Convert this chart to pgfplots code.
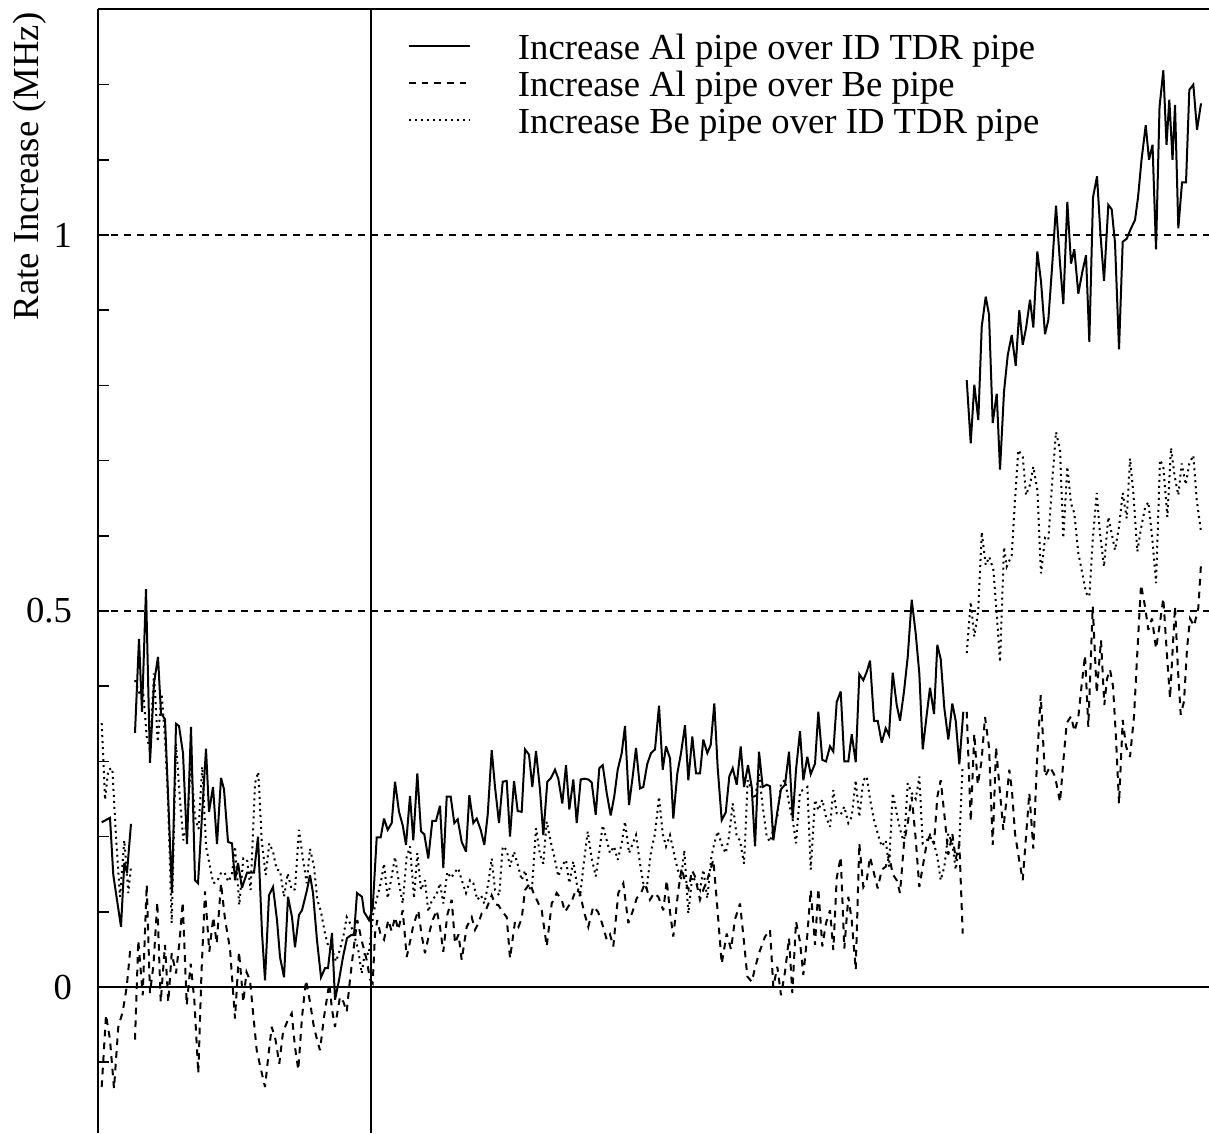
\documentclass[border=0pt]{standalone}
\usepackage{fontspec}
\setmainfont{Liberation Serif}
\usepackage{pgfplots}
\pgfplotsset{compat=1.18}
\begin{document}
\begin{tikzpicture}[font=\fontsize{11}{13}\selectfont]
\begin{axis}[
  x=0.3pt, y=225.6pt,
  xmin=98, xmax=1209, ymin=-0.19415, ymax=1.3,
  axis x line*=top, axis y line*=left,
  axis line style={-, line width=0.6pt},
  xtick=\empty,
  ytick={0,0.5,1}, yticklabels={0,0.5,1},
  minor ytick={-0.1,0.1,0.2,0.3,0.4,0.6,0.7,0.8,0.9,1.1,1.2},
  tick align=inside, major tick length=3.4pt, minor tick length=3.4pt,
  every tick/.style={black, line width=0.45pt},
  yticklabel style={anchor=east, inner sep=0pt, xshift=-7.6pt, font=\fontsize{11}{13}\selectfont},
  /pgf/number format/assume math mode=true,
  clip=false,
  unbounded coords=jump,
  legend cell align=left,
  legend style={draw=none, fill=none, inner sep=0pt, outer sep=0pt,
    at={(0.2790,0.9790)}, anchor=north west, row sep=0pt, column sep=14.1pt,
    font=\fontsize{11}{13}\selectfont,
    nodes={inner sep=0pt, text height=8pt, text depth=3.1pt}},
  legend image code/.code={\draw[#1] (0pt,1.7pt) -- (18.3pt,1.7pt);},
  every axis plot/.append style={line width=0.6pt, black, miter limit=4},
]
% reference lines
\addplot[forget plot, line width=0.6pt] coordinates {(98,0) (1209,0)};
\addplot[forget plot, line width=0.45pt, dash pattern=on 2.1pt off 1.8pt] coordinates {(98,0.5) (1209,0.5)};
\addplot[forget plot, line width=0.45pt, dash pattern=on 2.1pt off 1.8pt] coordinates {(98,1) (1209,1)};
\addplot[forget plot, line width=0.6pt] coordinates {(371,-0.19415) (371,1.3)};

% Increase Al pipe over ID TDR pipe (solid)
\addplot[solid] coordinates {
(101.7,0.219) (110,0.225) (113.3,0.149) (121,0.080) (124.3,0.165) (127,0.152) (131,0.217) (133,nan)
(135,0.338) (139,0.463) (142,0.366) (146,0.529) (150,0.298) (154,0.404) (158,0.439) (161,0.364) (165,0.356)
(172,0.125) (176,0.350) (179,0.347) (183,0.311) (187,0.190) (191,0.346) (195,0.142) (198,0.138) (206,0.317)
(209,0.233) (213,0.266) (217,0.190) (221,0.278) (224,0.263) (228,0.193) (232,0.191) (235,0.142) (238,0.165)
(242,0.132) (247,0.152) (251,0.152) (254,0.152) (258,0.200) (262,0.072) (265,0.009) (269,0.122) (273,0.133)
(277,0.089) (280,0.040) (284,0.013) (288,0.120) (292,0.093) (295,0.053) (299,0.096) (302,0.102) (307,0.129)
(310,0.149) (313,0.125) (317,0.062) (321,0.013) (325,0.025) (328,0.025) (332,0.072) (335,-0.017) (339,0.009)
(343,0.040) (347,0.065) (351,0.069) (354,0.069) (357,0.125) (362,0.120) (364,0.100) (369,0.089)
(372.7,0.105) (376.7,0.199) (380.7,0.199) (384,0.224) (387.7,0.209) (391.7,0.218) (395,0.273) (399,0.233)
(402.7,0.215) (406,0.189) (410,0.254) (413.3,0.195) (417.3,0.284) (421,0.207) (424.3,0.203) (428.3,0.171)
(432.3,0.221) (436,0.221) (440,0.241) (443.3,0.158) (446.7,0.253) (450.7,0.253) (454.3,0.218) (457.7,0.223)
(461.7,0.193) (466,0.180) (469.3,0.255) (473.3,0.218) (476.7,0.224) (480.7,0.209) (484.3,0.189) (487.7,0.229)
(491.7,0.315) (495,0.266) (499,0.218) (502.7,0.273) (506.7,0.274) (510,0.200) (514,0.274) (517.7,0.234)
(521.7,0.233) (525,0.316) (529,0.309) (532.3,0.266) (536,0.314) (540,0.262) (543.3,0.202) (547.3,0.273)
(551,0.278) (555,0.289) (558.3,0.277) (562.3,0.244) (566,0.295) (569.3,0.236) (573.3,0.276) (576.7,0.218)
(580.7,0.276) (584.3,0.277) (588.3,0.276) (591.7,0.272) (595.7,0.229) (599.3,0.291) (602.7,0.295) (606.7,0.258)
(610.7,0.228) (614.3,0.254) (617.7,0.289) (621.7,0.311) (625,0.347) (629,0.242) (632.7,0.280) (636,0.318)
(640,0.264) (643.3,0.266) (647.3,0.297) (651,0.311) (655,0.316) (659,0.374) (662.7,0.289) (666,0.320)
(670,0.304) (673.3,0.224) (677.3,0.284) (681,0.311) (685,0.348) (688.3,0.275) (692.3,0.333) (696,0.284)
(700,0.284) (703.3,0.329) (707.3,0.311) (710.7,0.322) (714.3,0.377) (717.7,0.291) (721.7,0.222) (725.7,0.232)
(729.3,0.280) (732.7,0.291) (736.7,0.269) (740.7,0.320) (744,0.266) (748,0.295) (751.7,0.266) (755,0.187)
(759,0.313) (762.7,0.266) (766.7,0.269) (770,0.267) (773.3,0.195) (777.3,0.233) (781,0.263) (785,0.269)
(789,0.313) (792.7,0.224) (796,0.289) (800,0.340) (803.3,0.275) (807.3,0.306) (810.7,0.283) (815,0.297)
(818.3,0.366) (822.3,0.302) (826,0.300) (830,0.320) (833.3,0.313) (836.7,0.379) (840.7,0.393) (844.3,0.300)
(848.3,0.300) (851.7,0.336) (855.7,0.299) (859.3,0.416) (863.3,0.408) (866.7,0.419) (870,0.434) (874,0.354)
(877.7,0.354) (881.7,0.325) (885.7,0.344) (889,0.335) (892.7,0.418) (896.7,0.375) (900,0.354) (904,0.393)
(907.7,0.439) (911.7,0.515) (915.7,0.470) (919.3,0.417) (922.7,0.316) (926.7,0.362) (930,0.398) (934,0.363)
(937.3,0.455) (940.7,0.436) (944.3,0.371) (948.3,0.329) (952.3,0.377) (955.7,0.354) (959.3,0.296) (963.3,0.366)
(965,nan)
(966.7,0.807) (970.7,0.723) (974.3,0.801) (978.3,0.754) (981.7,0.878) (985.7,0.918) (989,0.894) (992.7,0.750)
(996.7,0.789) (1000,0.688) (1004,0.792) (1007.7,0.840) (1011.7,0.867) (1015.7,0.826) (1019.3,0.900) (1022.7,0.854)
(1026,0.876) (1030,0.914) (1033.3,0.877) (1037.3,0.978) (1041,0.938) (1045,0.868) (1048.3,0.887) (1052.3,0.962)
(1056,1.039) (1060,0.962) (1063.3,0.908) (1067.3,1.044) (1071,0.962) (1074.3,0.981) (1078.3,0.922) (1082.3,0.951)
(1086,0.973) (1089.3,0.858) (1093,1.05) (1097,1.078) (1100.5,1.0) (1104,0.939) (1108.3,1.040) (1111.7,1.034)
(1115,0.989) (1119,0.848) (1122.7,0.991) (1126.7,0.995) (1130.7,1.008) (1135,1.020) (1138,1.05) (1141.5,1.1)
(1145.7,1.146) (1149,1.10) (1152.5,1.12) (1156,0.981) (1159.5,1.17) (1163.3,1.219) (1166.5,1.12) (1169.3,1.180)
(1172.5,1.10) (1175,1.173) (1178.3,1.009) (1182,1.07) (1186,1.07) (1189.3,1.193) (1193.3,1.200) (1197,1.14)
(1201,1.175)
};
\addlegendentry{Increase Al pipe over ID TDR pipe}

% Increase Al pipe over Be pipe (dashed)
\addplot[dash pattern=on 2pt off 1.8pt] coordinates {
(101.7,-0.133) (106,-0.037) (110,-0.07) (114,-0.135) (118.3,-0.053) (122.7,-0.033) (126.7,0.0) (130.7,0.056) (133,nan)
(135,-0.07) (138.3,0.062) (142.7,-0.011) (146.7,0.136) (150,-0.008) (153.5,0.03) (157.3,0.113) (160.7,-0.02)
(165,0.056) (168.3,-0.02) (171.7,0.045) (176,0.018) (179.5,0.06) (182.7,0.113) (186.7,-0.024) (190.7,0.031)
(194.3,-0.017) (198.3,-0.115) (201.5,0.02) (205,0.127) (209.3,0.047) (213.3,0.093) (216.7,0.058) (221,0.138)
(225,0.09) (230,0.051) (235,-0.042) (239,0.047) (243.3,-0.02) (246.5,0.02) (250,0.009) (253.5,-0.04)
(256.7,-0.084) (261,-0.11) (265,-0.133) (268.5,-0.09) (271.7,-0.053) (275.5,-0.07) (279.3,-0.102) (283,-0.06)
(287.5,-0.045) (291.7,-0.035) (295,-0.08) (298.3,-0.110) (302,-0.04) (306,0.009) (310,-0.02) (313.5,-0.05)
(317,-0.07) (320,-0.084) (324,-0.04) (329.3,0.005) (332,-0.03) (335,-0.053) (340,-0.013) (343.5,-0.02)
(346.7,-0.033) (350,0.01) (353.5,0.05) (357.3,0.089) (362,0.06) (366.7,0.036) (370,0.01)
(372.7,0.005) (375,0.071) (377.3,0.089) (380.5,0.07) (384,0.063) (388.3,0.089) (391.7,0.074) (395,0.093)
(398.3,0.076) (402.7,0.102) (406.7,0.040) (410,0.06) (413.3,0.082) (418.3,0.102) (421.5,0.07) (425,0.045)
(430,0.076) (433,0.09) (436.7,0.102) (440,0.08) (443.3,0.047) (447.3,0.096) (451.7,0.116) (455,0.058)
(458.5,0.07) (461.7,0.036) (466.7,0.080) (471.7,0.093) (475,0.076) (478.5,0.085) (481.7,0.098) (486.7,0.105)
(491.7,0.122) (495,0.11) (498.3,0.109) (502.5,0.1) (506.7,0.093) (510,0.038) (515,0.087) (518.5,0.08)
(521.7,0.091) (525,0.129) (530,0.138) (533.5,0.125) (536.7,0.116) (541.7,0.102) (546.7,0.054) (551.7,0.111)
(556.7,0.125) (561.7,0.116) (565,0.1) (568.3,0.107) (572,0.115) (576,0.13) (580,0.125) (584,0.1)
(588.3,0.080) (593.3,0.107) (598,0.1) (602,0.085) (606.7,0.063) (610,0.07) (613.3,0.054) (618.3,0.125)
(623.3,0.138) (628.3,0.085) (632.5,0.1) (636.7,0.118) (641,0.125) (645,0.138) (650,0.116) (654,0.125)
(658.3,0.120) (663.3,0.102) (666.7,0.142) (670,0.1) (673.3,0.067) (678.3,0.129) (681.7,0.158) (685,0.14)
(688.5,0.13) (692,0.155) (695,0.147) (700,0.116) (703.5,0.13) (706.7,0.140) (713.3,0.169) (716.7,0.116)
(721.7,0.031) (726.7,0.071) (731,0.05) (735,0.09) (740,0.111) (744,0.06) (747.3,0.014) (751.7,0.007)
(755,0.025) (759,0.045) (765,0.067) (770,0.076) (773.3,0.000) (777.3,0.027) (781,-0.011) (785,0.02)
(789,0.065) (792.3,-0.008) (796,0.087) (800,0.06) (803.3,0.016) (807.3,0.069) (810.7,0.129) (815,0.056)
(818.3,0.131) (822.3,0.054) (826,0.085) (830,0.102) (833.3,0.049) (836.7,0.145) (840.7,0.173) (844.3,0.051)
(848.3,0.120) (851.7,0.089) (855.7,0.023) (859.3,0.191) (863.3,0.133) (866.7,0.142) (870,0.173) (874,0.151)
(877.7,0.131) (881.7,0.156) (885.7,0.16) (889,0.176) (892.7,0.15) (896.7,0.142) (900,0.125) (904,0.191)
(907.7,0.218) (911.7,0.253) (915.5,0.2) (919.3,0.133) (922.7,0.16) (926.7,0.191) (930,0.202) (934,0.19)
(937.3,0.253) (940.7,0.275) (944.3,0.23) (948.3,0.176) (952.3,0.204) (955.7,0.17) (959.3,0.191) (962.7,0.071)
(965,nan)
(966.7,0.366) (970.7,0.220) (974.3,0.337) (977.7,0.269) (981.5,0.3) (985,0.359) (989,0.319) (992.7,0.189)
(996,0.319) (1000,0.258) (1003.3,0.209) (1006.5,0.25) (1009.3,0.289) (1012,0.26) (1015,0.204) (1019,0.17)
(1022.7,0.142) (1026,0.2) (1029.3,0.258) (1033.3,0.184) (1037,0.3) (1040.7,0.388) (1045,0.280) (1050,0.293)
(1055,0.28) (1060,0.246) (1063.3,0.3) (1066.7,0.351) (1071,0.36) (1074.5,0.34) (1078.3,0.359) (1081.5,0.4)
(1085,0.441) (1088.3,0.346) (1092.7,0.506) (1096.7,0.391) (1101,0.461) (1104.3,0.375) (1107,0.41) (1110,0.422)
(1113,0.4) (1116,0.33) (1119,0.244) (1122.7,0.355) (1126,0.32) (1130,0.306) (1134,0.36) (1137.5,0.45)
(1141,0.535) (1145,0.506) (1148.3,0.475) (1152,0.49) (1156,0.450) (1159.5,0.48) (1163.3,0.517) (1166.5,0.45)
(1170,0.384) (1175,0.506) (1178,0.42) (1180.7,0.362) (1184,0.38) (1187,0.45) (1190,0.490) (1194,0.48)
(1198.3,0.504) (1201,0.563)
};
\addlegendentry{Increase Al pipe over Be pipe}

% Increase Be pipe over ID TDR pipe (dotted)
\addplot[dash pattern=on 0.6pt off 1.2pt] coordinates {
(101.7,0.351) (105,0.249) (108.3,0.289) (112.3,0.291) (116,0.20) (120,0.120) (124.3,0.195) (128.3,0.125) (131,0.160) (133,nan)
(135,0.408) (139.3,0.391) (143.3,0.390) (146.7,0.333) (150,0.315) (154,0.417) (157.7,0.326) (161.7,0.390)
(165,0.33) (168,0.25) (171.7,0.085) (176,0.324) (180,0.249) (183.3,0.195) (187.3,0.222) (191,0.297)
(195,0.226) (198.5,0.21) (202.3,0.293) (206,0.187) (210,0.16) (213.3,0.138) (217,0.14) (220.7,0.151)
(224.3,0.153) (228.3,0.140) (232,0.15) (235,0.187) (239.3,0.109) (243.3,0.171) (247,0.17) (250.7,0.129)
(255,0.271) (258.3,0.286) (261.7,0.195) (265.7,0.149) (269.3,0.191) (273,0.18) (276.7,0.156) (280,0.155)
(284,0.120) (287.7,0.151) (291.7,0.129) (295,0.13) (299,0.209) (302.7,0.173) (306.7,0.138) (310,0.184)
(314,0.160) (317.3,0.116) (321,0.10) (325,0.071) (328.3,0.054) (332,0.05) (336,0.034) (340,0.05)
(343.3,0.067) (346.7,0.093) (350,0.085) (354,0.07) (358.3,0.049) (361.7,0.018) (365,0.047) (368.7,0.043)
(373.3,0.098) (377.3,0.120) (380.7,0.138) (384,0.164) (387.7,0.118) (391.7,0.147) (395,0.173) (399,0.138)
(402.7,0.111) (406.7,0.173) (410,0.187) (414,0.118) (417.3,0.178) (421,0.129) (425,0.142) (428.3,0.100)
(432.3,0.117) (436,0.121) (440,0.138) (443.3,0.111) (447.3,0.153) (451,0.145) (455,0.153) (458.3,0.158)
(461.7,0.142) (466,0.125) (470,0.142) (473.3,0.138) (477.3,0.116) (481,0.122) (484.3,0.111) (488.3,0.138)
(491.7,0.171) (495,0.129) (499.3,0.122) (502.7,0.187) (506.7,0.182) (510,0.160) (514,0.180) (518.3,0.160)
(521.7,0.142) (525,0.155) (529,0.129) (532.3,0.138) (536,0.211) (540,0.176) (543.3,0.164) (546.7,0.220)
(550.7,0.193) (554.3,0.173) (558.3,0.147) (562.3,0.162) (566,0.169) (569.3,0.138) (573.3,0.167) (576.7,0.138)
(580,0.120) (584,0.167) (587.7,0.207) (591.7,0.171) (595.7,0.147) (599.3,0.180) (602.7,0.215) (606.7,0.195)
(610,0.178) (614,0.187) (617.7,0.169) (621.7,0.191) (625,0.220) (629,0.178) (632.5,0.19) (636,0.202)
(640,0.164) (643.3,0.138) (646.7,0.131) (651,0.180) (655,0.204) (659,0.253) (662.7,0.204) (666,0.187)
(670,0.202) (673.3,0.182) (677,0.16) (681,0.142) (684.3,0.182) (688.3,0.098) (692.3,0.147) (696,0.14)
(700,0.129) (703.3,0.156) (707.3,0.118) (711,0.17) (714.3,0.191) (717.7,0.207) (721.5,0.19) (725.7,0.178)
(729,0.2) (732.7,0.244) (736.7,0.200) (740,0.195) (744,0.164) (747.7,0.275) (751.7,0.262) (755,0.25)
(759,0.284) (762.7,0.24) (766.7,0.200) (770,0.193) (773.3,0.21) (777.3,0.226) (781,0.271) (785,0.275)
(789,0.244) (792.7,0.222) (796,0.191) (800,0.260) (803.3,0.262) (807.3,0.266) (810.7,0.156) (815,0.249)
(818.3,0.235) (822.3,0.249) (826,0.226) (830,0.213) (833.3,0.262) (836.7,0.231) (840.7,0.229) (844.3,0.240)
(848.3,0.218) (851.7,0.226) (855.7,0.275) (859.3,0.226) (863.3,0.275) (866.7,0.280) (870,0.25) (874,0.222)
(877.7,0.204) (881.7,0.187) (885.7,0.195) (889,0.160) (892.7,0.258) (896.7,0.231) (900,0.21) (904,0.191)
(907.7,0.271) (911.7,0.258) (915.7,0.25) (919.3,0.280) (922.7,0.191) (926.7,0.195) (930,0.200) (934,0.191)
(937.3,0.173) (940.7,0.142) (944.3,0.160) (948.3,0.204) (952.3,0.191) (955.7,0.156) (959.3,0.191) (962.5,0.29)
(965,nan)
(966.7,0.444) (970.7,0.512) (974.3,0.466) (978.3,0.501) (981.7,0.605) (985.7,0.561) (989.3,0.572) (993.3,0.555)
(996.7,0.497) (1000,0.432) (1004,0.585) (1006.7,0.559) (1011.7,0.574) (1015,0.648) (1018.3,0.714) (1022.7,0.705)
(1026,0.654) (1030,0.668) (1033.3,0.692) (1037.3,0.661) (1041,0.550) (1045,0.597) (1048.3,0.594) (1052.3,0.674)
(1056,0.738) (1060,0.714) (1063.3,0.597) (1067.3,0.692) (1071,0.643) (1074.3,0.630) (1078.3,0.577) (1082.3,0.550)
(1086,0.524) (1089.3,0.519) (1092.7,0.594) (1096.7,0.657) (1100,0.603) (1104,0.559) (1108.3,0.625) (1111.7,0.603)
(1115,0.581) (1119,0.612) (1122.7,0.657) (1126.7,0.623) (1130,0.703) (1133.3,0.657) (1137.3,0.579) (1141,0.61)
(1145,0.637) (1148.3,0.645) (1152,0.6) (1156,0.537) (1160,0.701) (1163.3,0.692) (1167.3,0.625) (1171,0.717)
(1174.5,0.68) (1178.3,0.654) (1181.7,0.696) (1185.7,0.668) (1189.3,0.696) (1193.3,0.707) (1196.7,0.648) (1201,0.605)
};
\addlegendentry{Increase Be pipe over ID TDR pipe}

\node[rotate=90, anchor=base east, inner sep=0pt] at (axis cs:39,1.2965) {Rate Increase (MHz)};
\end{axis}
\pgfresetboundingbox
\path ([xshift=-29.4pt]current axis.south west) rectangle ([yshift=2.82pt]current axis.north east);
\end{tikzpicture}
\end{document}
